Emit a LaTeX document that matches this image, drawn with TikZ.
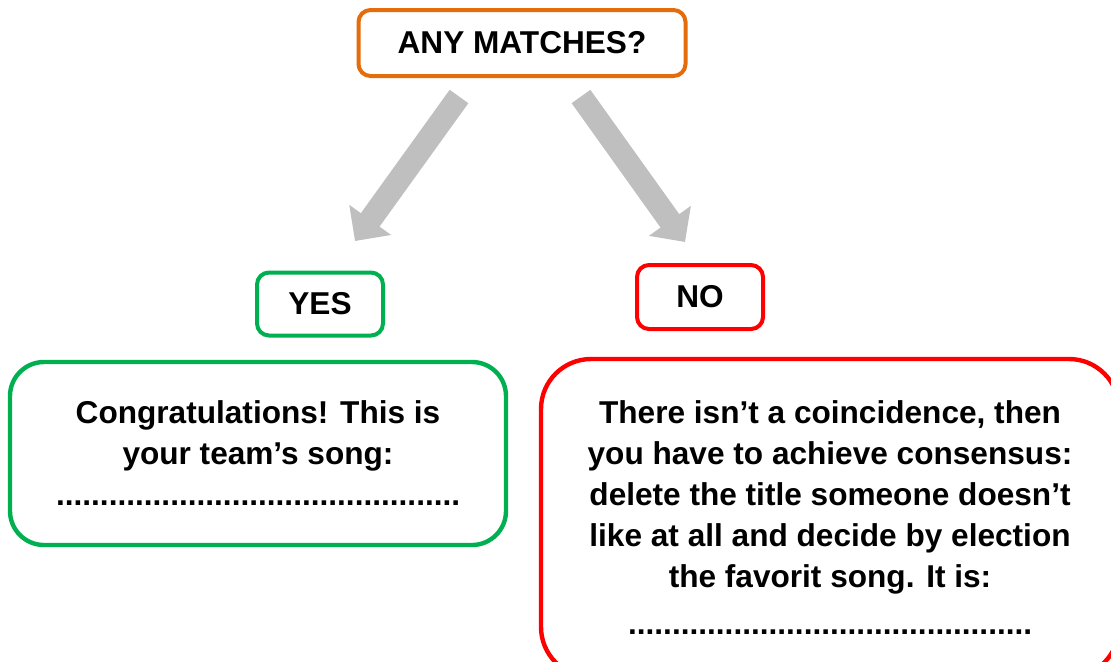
\documentclass[tikz,border=0pt]{standalone}
\usepackage{fontspec}
\setmainfont{Liberation Sans}
\usetikzlibrary{arrows.meta}
\definecolor{questionorange}{RGB}{228, 108, 10}
\definecolor{yesgreen}{RGB}{0, 176, 80}
\definecolor{nored}{RGB}{255, 0, 0}
\definecolor{arrowgray}{RGB}{191, 191, 191}

\tikzset{
    textfont/.style={font=\bfseries\fontsize{15.8}{20.5}\selectfont},
    labelbox/.style={draw=#1, line width=2pt, rounded corners=6pt, fill=white, align=center, textfont},
    answerbox/.style={draw=#1, line width=2.2pt, fill=white, align=center, textfont},
    bigarrow/.style={arrowgray, line width=11.5pt, -{Triangle[width=25pt,length=13pt]}}
}

\begin{document}
\begin{tikzpicture}[x=0.5pt,y=-0.5pt]
        % Picture frame (pixel grid of the page)
        \useasboundingbox (0,0) rectangle (1111,661);
        \clip (0,0) rectangle (1111,661);

        % Question on top
        \node[labelbox=questionorange, minimum width=163.5pt, minimum height=33pt] (question) at (522,43) {ANY MATCHES?};

        % Two answers
        \node[labelbox=yesgreen, minimum width=63pt, minimum height=31.5pt] (yes) at (320,304) {YES};
        \node[labelbox=nored, minimum width=63pt, minimum height=32pt] (no) at (700,297) {NO};

        % What to do next
        \node[answerbox=yesgreen, rounded corners=17pt, minimum width=248pt, minimum height=91.5pt] (yestext) at (258,453.5) {
            Congratulations! This is\\
            your team’s song:\\
            ..............................................
        };
        \node[answerbox=nored, rounded corners=25pt, minimum width=289pt, minimum height=159pt] (notext) at (830,518) {
            There isn’t a coincidence, then\\
            you have to achieve consensus:\\
            delete the title someone doesn’t\\
            like at all and decide by election\\
            the favorit song. It is:\\[3pt]
            ..............................................
        };

        % Gray arrows from the question
        \coordinate (leftstart) at (459,96.5);
        \coordinate (leftend) at (355,241);
        \coordinate (rightstart) at (581,96.5);
        \coordinate (rightend) at (685,242);
        \draw[bigarrow] (leftstart) -- (leftend);
        \draw[bigarrow] (rightstart) -- (rightend);
    \end{tikzpicture}
\end{document}
